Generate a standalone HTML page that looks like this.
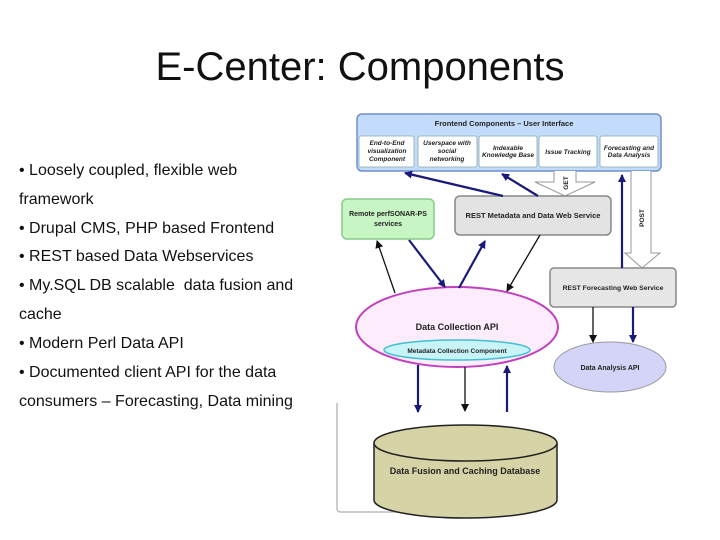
<!DOCTYPE html>
<html><head><style>
body{margin:0;width:720px;height:540px;background:#fff;position:relative;overflow:hidden;font-family:"Liberation Sans",sans-serif}
.t{position:absolute;left:0;width:720px;top:45px;text-align:center;font-size:40px;color:#111}
.b{position:absolute;left:19px;font-size:16px;color:#111;white-space:nowrap}
svg{position:absolute;left:0;top:0}
svg text{font-family:"Liberation Sans",sans-serif;font-weight:bold;text-anchor:middle;fill:#222}
</style></head><body>
<div class="t">E-Center: Components</div>
<div class="b" style="top:162px">• Loosely coupled, flexible web</div>
<div class="b" style="top:191px">framework</div>
<div class="b" style="top:220px">• Drupal CMS, PHP based Frontend</div>
<div class="b" style="top:248px">• REST based Data Webservices</div>
<div class="b" style="top:277px">• My.SQL DB scalable&nbsp; data fusion and</div>
<div class="b" style="top:306px">cache</div>
<div class="b" style="top:335px">• Modern Perl Data API</div>
<div class="b" style="top:364px">• Documented client API for the data</div>
<div class="b" style="top:393px">consumers – Forecasting, Data mining</div>
<svg width="720" height="540">
<defs>
<marker id="n" markerWidth="8" markerHeight="8" refX="7" refY="4" orient="auto" markerUnits="userSpaceOnUse"><path d="M0,0 L8,4 L0,8z" fill="#1a1a7a"/></marker>
<marker id="k" markerWidth="8" markerHeight="8" refX="7" refY="4" orient="auto" markerUnits="userSpaceOnUse"><path d="M0,0 L8,4 L0,8z" fill="#111"/></marker>
</defs>
<path d="M337,403 V508 Q337,512 341,512 H537" fill="none" stroke="#bbb" stroke-width="1.5"/>
<rect x="357" y="114" width="304" height="57" rx="5" fill="#c4dcfb" stroke="#6f8fcf" stroke-width="1.5"/>
<text x="504" y="126" font-size="7.5">Frontend Components – User Interface</text>
<g fill="#fff" stroke="#8aa" stroke-width="0.8">
<rect x="359" y="136" width="55" height="31" rx="2"/><rect x="418" y="136" width="59" height="31" rx="2"/><rect x="479" y="136" width="58" height="31" rx="2"/><rect x="539" y="136" width="58" height="31" rx="2"/><rect x="600" y="136" width="58" height="31" rx="2"/></g>
<g font-size="6.5" font-style="italic">
<text x="387" y="145">End-to-End</text><text x="387" y="153">visualization</text><text x="387" y="161">Component</text>
<text x="447" y="145">Userspace with</text><text x="447" y="153">social</text><text x="447" y="161">networking</text>
<text x="508" y="150">Indexable</text><text x="508" y="157">Knowledge Base</text>
<text x="568" y="154">Issue Tracking</text>
<text x="629" y="150">Forecasting and</text><text x="629" y="157">Data Analysis</text></g>
<path d="M554,171 V182 H535 L565,196 L595,182 H576 V171" fill="#fff" stroke="#999"/>
<text x="0" y="0" font-size="6.5" transform="translate(568,183) rotate(-90)">GET</text>
<path d="M631,171 V253 H625 L642,268 L660,253 H651 V171" fill="#fff" stroke="#999"/>
<text x="0" y="0" font-size="6.5" transform="translate(644,218) rotate(-90)">POST</text>
<rect x="342" y="199" width="92" height="40" rx="5" fill="#c8f5c4" stroke="#8c8" stroke-width="1.5"/>
<text x="388" y="216" font-size="7">Remote perfSONAR-PS</text><text x="388" y="226" font-size="7">services</text>
<rect x="455" y="196" width="156" height="39" rx="5" fill="#e3e3e3" stroke="#888" stroke-width="1.5"/>
<text x="533" y="218" font-size="7.5">REST Metadata and Data Web Service</text>
<rect x="550" y="268" width="126" height="39" rx="4" fill="#e6e6e6" stroke="#888" stroke-width="1.5"/>
<text x="613" y="290" font-size="6.8">REST Forecasting Web Service</text>
<ellipse cx="457" cy="327" rx="101" ry="40" fill="#fcecfc" stroke="#c040c0" stroke-width="2"/>
<text x="457" y="330" font-size="9">Data Collection API</text>
<ellipse cx="457" cy="350" rx="73" ry="10" fill="#c8f4f8" stroke="#40c0d0" stroke-width="1.5"/>
<text x="457" y="353" font-size="6.5">Metadata Collection Component</text>
<ellipse cx="610" cy="367" rx="56" ry="25" fill="#d4d4f8" stroke="#999" stroke-width="1"/>
<text x="610" y="370" font-size="7">Data Analysis API</text>
<path d="M374,443 V500 A91.5,18 0 0 0 557,500 V443" fill="#d6d3a6" stroke="#222" stroke-width="1.5"/>
<ellipse cx="465.5" cy="443" rx="91.5" ry="18" fill="#d6d3a6" stroke="#222" stroke-width="1.5"/>
<text x="465" y="474" font-size="9">Data Fusion and Caching  Database</text>
<g stroke="#1a1a7a" stroke-width="2.2" fill="none" marker-end="url(#n)">
<path d="M503,196 L405,173"/><path d="M538,196 L502,174"/>
<path d="M409,240 L445,287"/><path d="M459,288 L485,241"/>
<path d="M622,268 L622,175"/><path d="M633,307 L633,342"/>
<path d="M418,365 L418,412"/><path d="M507,412 L507,366"/></g>
<g stroke="#111" stroke-width="1.3" fill="none" marker-end="url(#k)">
<path d="M395,293 L377,241"/><path d="M540,235 L507,291"/>
<path d="M593,307 L593,342"/><path d="M465,367 L465,411"/></g>
</svg>
</body></html>
